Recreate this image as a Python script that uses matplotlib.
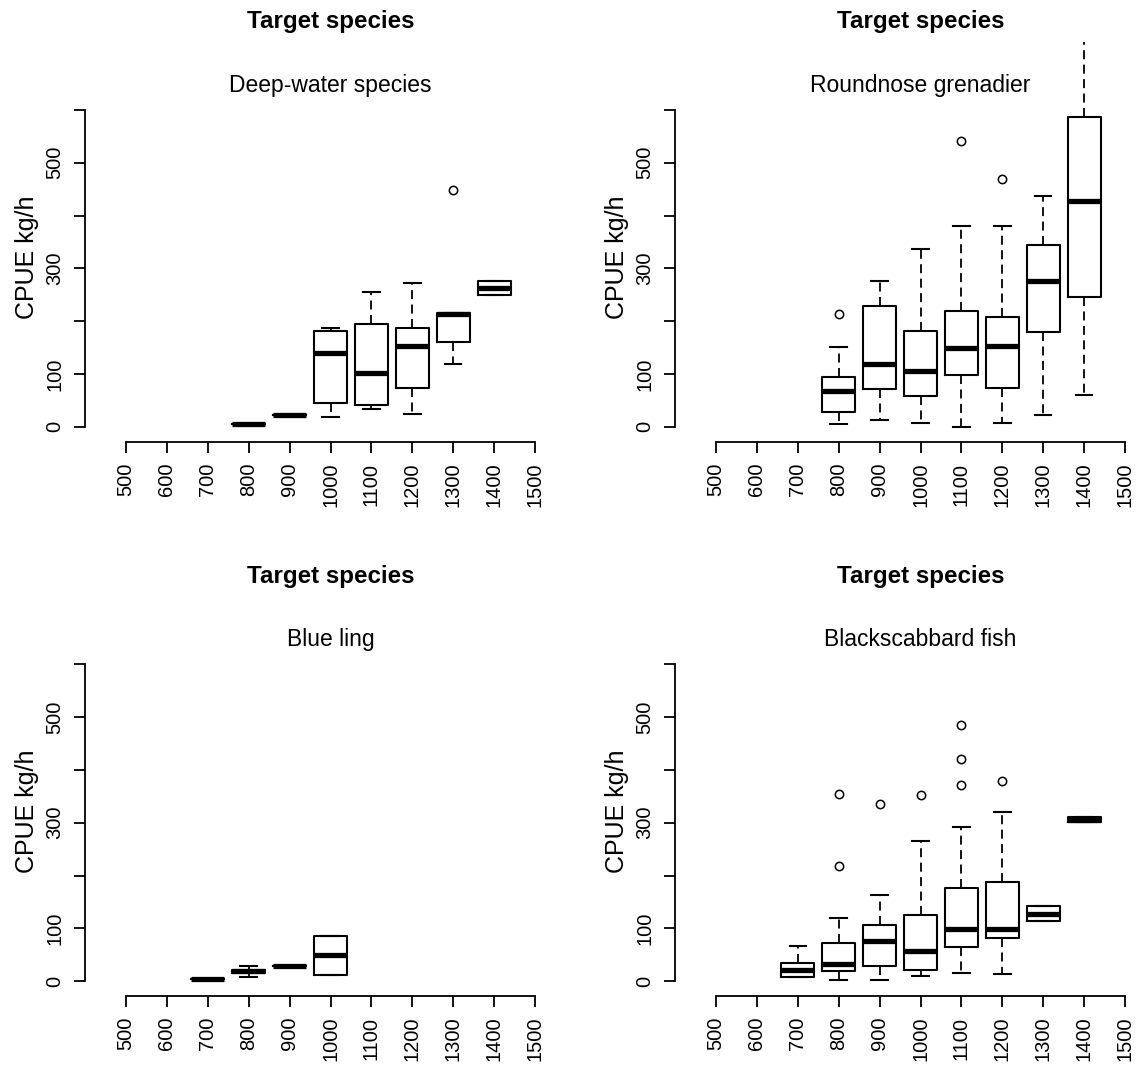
import matplotlib
matplotlib.use("Agg")
import matplotlib.pyplot as plt

plt.rcParams['font.family'] = ['Liberation Sans', 'DejaVu Sans']

# ---------------- data ----------------
titles = ["Deep-water species", "Roundnose grenadier", "Blue ling", "Blackscabbard fish"]
main_title = "Target species"
y_label = "CPUE kg/h"
x_ticks = [500, 600, 700, 800, 900, 1000, 1100, 1200, 1300, 1400, 1500]
y_ticks = [0, 100, 200, 300, 400, 500, 600]
y_ticklabels = ["0", "100", "", "300", "", "500", ""]

# Deep-water species
dw_depth = [800, 900, 1000, 1100, 1200, 1300, 1400]
dw_med = [5, 22, 140, 102, 153, 213, 263]
dw_q1 = [5, 22, 46, 42, 74, 160, 249]
dw_q3 = [5, 22, 181, 194, 187, 215, 276]
dw_lo = [5, 22, 19, 33, 25, 119, 249]
dw_hi = [5, 22, 187, 256, 273, 215, 276]
dw_out = [[], [], [], [], [], [448], []]

# Roundnose grenadier
rn_depth = [800, 900, 1000, 1100, 1200, 1300, 1400]
rn_med = [68, 119, 106, 150, 153, 277, 428]
rn_q1 = [28, 71, 59, 98, 74, 180, 246]
rn_q3 = [95, 229, 181, 219, 208, 345, 586]
rn_lo = [5, 13, 8, 0, 8, 22, 61]
rn_hi = [152, 276, 336, 380, 380, 438, 760]
rn_out = [[213], [], [], [541], [469], [], []]

# Blue ling
bl_depth = [700, 800, 900, 1000]
bl_med = [5, 19, 29, 49]
bl_q1 = [5, 16, 29, 11]
bl_q3 = [5, 22, 29, 85]
bl_lo = [5, 8, 29, 11]
bl_hi = [5, 29, 29, 85]
bl_out = [[], [], [], []]

# Blackscabbard fish
bs_depth = [700, 800, 900, 1000, 1100, 1200, 1300, 1400]
bs_med = [22, 32, 76, 57, 98, 98, 128, 306]
bs_q1 = [8, 19, 29, 22, 64, 81, 114, 302]
bs_q3 = [34, 73, 107, 125, 177, 187, 142, 311]
bs_lo = [8, 2, 2, 10, 16, 13, 114, 302]
bs_hi = [67, 119, 163, 265, 292, 321, 142, 311]
bs_out = [[], [218, 355], [335], [352], [372, 420, 485], [379], [], []]

panels = [
    (dw_depth, dw_med, dw_q1, dw_q3, dw_lo, dw_hi, dw_out),
    (rn_depth, rn_med, rn_q1, rn_q3, rn_lo, rn_hi, rn_out),
    (bl_depth, bl_med, bl_q1, bl_q3, bl_lo, bl_hi, bl_out),
    (bs_depth, bs_med, bs_q1, bs_q3, bs_lo, bs_hi, bs_out),
]

# ---------------- layout (pixels) ----------------
W, H = 1144, 1068
fig = plt.figure(figsize=(W / 100, H / 100), dpi=100)

XLIM = (400, 1600)
YLIM = (-28, 728)
base_L, base_R, base_T, base_B = 85, 576, 42.3, 441.7
dx, dy = 590, 554.3

def px_rect(L, T, R, B):
    return [L / W, 1 - B / H, (R - L) / W, (B - T) / H]

for i, (depth, med, q1, q3, lo, hi, out) in enumerate(panels):
    col, row = i % 2, i // 2
    L = base_L + col * dx
    R = base_R + col * dx
    T = base_T + row * dy
    B = base_B + row * dy
    ax = fig.add_axes(px_rect(L, T, R, B))
    stats = []
    for k in range(len(depth)):
        stats.append(dict(med=med[k], q1=q1[k], q3=q3[k],
                          whislo=lo[k], whishi=hi[k], fliers=out[k]))
    ax.bxp(stats, positions=depth, widths=80, manage_ticks=False,
           boxprops=dict(color='black', lw=1.5),
           medianprops=dict(color='black', lw=3.8, solid_capstyle='butt'),
           whiskerprops=dict(color='black', lw=1.3, linestyle=(0, (5, 3))),
           capprops=dict(color='black', lw=1.5),
           flierprops=dict(marker='o', markerfacecolor='none',
                           markeredgecolor='black', markersize=6, markeredgewidth=1.1))
    ax.set_xlim(*XLIM)
    ax.set_ylim(*YLIM)
    for s in ['top', 'right']:
        ax.spines[s].set_visible(False)
    ax.spines['left'].set_bounds(0, 600)
    ax.spines['bottom'].set_bounds(500, 1500)
    ax.spines['left'].set_linewidth(1.3)
    ax.spines['bottom'].set_linewidth(1.3)
    ax.set_xticks(x_ticks)
    ax.set_xticklabels([str(v) for v in x_ticks], rotation=90, fontsize=14.5)
    ax.set_yticks(y_ticks)
    ax.set_yticklabels(y_ticklabels, rotation=90, va='center', fontsize=14.5)
    ax.tick_params(direction='out', length=8, width=1.3, pad=7, colors='black')
    ax.patch.set_alpha(0)

    ax.text(0.5, 1.051, main_title, transform=ax.transAxes, ha='center', va='center',
            fontsize=17.4, fontweight='bold')
    ax.text(0.5, 0.893, titles[i], transform=ax.transAxes, ha='center', va='center',
            fontsize=16.5)
    fig.text((27 + col * dx) / W, 1 - (257 + row * dy) / H, y_label,
             rotation=90, ha='center', va='center', fontsize=18)

fig.savefig("out.png", dpi=100)
